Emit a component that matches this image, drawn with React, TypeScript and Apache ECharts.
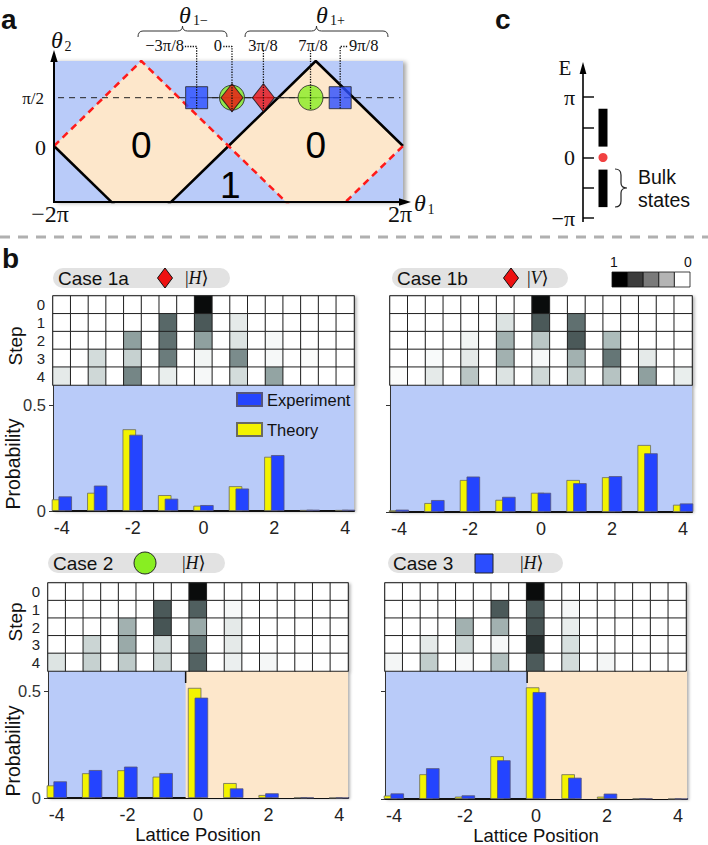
import React, { useEffect, useRef } from 'react';
import * as echarts from 'echarts';

// ---------- DATA ----------
// Panel a (theta1, theta2 in units of pi)
const peachRegions = [
  [[-2, 0], [-1, 0.88], [0, 0], [-1, -0.88]],
  [[0, 0], [1, 0.88], [2, 0], [1, -0.88]],
];
const blackEdgeA = [[-2, 0], [-1, -0.88]];
const blackEdgeB = [[-1, -0.88], [0, 0], [1, 0.88], [2, 0]];
const redEdge = [[-2, 0], [-1, 0.88], [0, 0], [1, -0.88], [2, 0]];
const halfPiLine = [[-2.08, 0.5], [1.97, 0.5]];
const markerLink = [[-0.365, 0.5], [1.28, 0.5]];
const squareX = [-0.365, 1.28];
const circleX = [0.04, 0.94];
const diamondX = [0.04, 0.4];
const connectors = [
  [[-0.5, 1.03], [-0.365, 1.03], [-0.365, 0.38]],
  [[-0.06, 1.03], [0.04, 1.03], [0.04, 0.355]],
  [[0.4, 0.99], [0.4, 0.37]],
  [[0.94, 0.99], [0.94, 0.38]],
  [[1.36, 1.03], [1.28, 1.03], [1.28, 0.38]],
];
const regionLabelPos = [[-1, 0], [1, 0], [0.02, -0.41]];
const regionLabels = ['0', '0', '1'];

// Panel c (E in units of pi)
const bulkBands = [[0.18, 0.806], [-0.82, -0.2]];
const edgeState = [[0.5, 0]];

// Panel b
const positions = [-4, -3, -2, -1, 0, 1, 2, 3, 4];
const cellLabels = ['-4', '-3.5', '-3', '-2.5', '-2', '-1.5', '-1', '-0.5', '0', '0.5', '1', '1.5', '2', '2.5', '3', '3.5', '4'];
const steps = ['0', '1', '2', '3', '4'];

const map1a = [
  [0, 0, 0, 0, 1, 0, 0, 0, 0],
  [0, 0, 0, 0.45, 0.5, 0.06, 0, 0, 0],
  [0, 0, 0.27, 0.42, 0.27, 0.08, 0.02, 0, 0],
  [0, 0.1, 0.13, 0.38, 0.03, 0.33, 0.02, 0.01, 0],
  [0.06, 0.11, 0.35, 0.05, 0.02, 0.1, 0.26, 0, 0],
];
const map1b = [
  [0, 0, 0, 0, 1, 0, 0, 0, 0],
  [0, 0, 0, 0.08, 0.5, 0.42, 0, 0, 0],
  [0, 0, 0.03, 0.22, 0.16, 0.5, 0.19, 0, 0],
  [0, 0.015, 0.06, 0.22, 0.02, 0.22, 0.4, 0.06, 0],
  [0.01, 0.06, 0.16, 0.08, 0.11, 0.13, 0.17, 0.27, 0.05],
];
const map2 = [
  [0, 0, 0, 0, 1, 0, 0, 0, 0],
  [0, 0, 0, 0.5, 0.48, 0.02, 0, 0, 0],
  [0, 0, 0.22, 0.52, 0.24, 0.06, 0, 0, 0],
  [0, 0.12, 0.24, 0.1, 0.4, 0.06, 0, 0, 0],
  [0.078, 0.131, 0.147, 0.117, 0.47, 0.045, 0.022, 0.002, 0],
];
const map3 = [
  [0, 0, 0, 0, 1, 0, 0, 0, 0],
  [0, 0, 0, 0.5, 0.5, 0.02, 0, 0, 0],
  [0, 0, 0.22, 0.22, 0.53, 0.05, 0, 0, 0],
  [0, 0.06, 0.12, 0.02, 0.75, 0.09, 0, 0, 0],
  [0.026, 0.143, 0.017, 0.18, 0.497, 0.099, 0.025, 0, 0],
];

const theory1a = [0.055, 0.086, 0.386, 0.075, 0.025, 0.117, 0.256, 0.005, 0.005];
const exp1a = [0.069, 0.12, 0.36, 0.058, 0.028, 0.106, 0.264, 0.006, 0.006];
const theory1b = [0.008, 0.042, 0.15, 0.057, 0.09, 0.15, 0.163, 0.314, 0.034];
const exp1b = [0.011, 0.056, 0.166, 0.071, 0.09, 0.135, 0.168, 0.275, 0.04];
const theory2 = [0.059, 0.116, 0.13, 0.1, 0.516, 0.07, 0.014, 0.002, 0.001];
const exp2 = [0.078, 0.131, 0.147, 0.117, 0.47, 0.045, 0.022, 0.002, 0.001];
const theory3 = [0.016, 0.115, 0.011, 0.199, 0.519, 0.115, 0.011, 0.002, 0.001];
const exp3 = [0.026, 0.143, 0.017, 0.18, 0.497, 0.099, 0.025, 0.002, 0.001];
const boundary2 = -0.35;
const boundary3 = -0.25;

const xTickValues = [-4, -2, 0, 2, 4];
const yTickValues = [0, 0.5];

// ---------- STYLE ----------
const FONT = 'Liberation Sans, Arial, Helvetica, sans-serif';
const SERIF = 'Liberation Serif, DejaVu Serif, serif';
const BLUE_BG = '#b9cbf9';
const PEACH = '#fde7cb';
const YELLOW = '#f3f300';
const EXPBLUE = '#2444ff';
const RED = '#ee1111';
const GREEN = '#88ee22';
const heatColors = ['#ffffff', '#d3dcdb', '#a9b8b7', '#849695', '#657676', '#4b5959', '#394545', '#2b3434', '#1f2626', '#141919', '#0a0c0c'];

const hbrace = (x0: number, x1: number, yEnd: number, yFlat: number, yTip: number) => {
  const xm = (x0 + x1) / 2;
  const r = 5;
  return `M${x0},${yEnd} Q${x0},${yFlat} ${x0 + r},${yFlat} L${xm - r},${yFlat} Q${xm},${yFlat} ${xm},${yTip} Q${xm},${yFlat} ${xm + r},${yFlat} L${x1 - r},${yFlat} Q${x1},${yFlat} ${x1},${yEnd}`;
};

const toCells = (rows: number[][]) => {
  const out: number[][] = [];
  rows.forEach((row, r) => {
    cellLabels.forEach((_, c) => {
      out.push([c, r, c % 2 === 0 ? row[c / 2] : 0]);
    });
  });
  return out;
};
const toPairs = (vals: number[]) => positions.map((p, i) => [p, vals[i]]);

const txt = (x: number, y: number, text: string, o: any = {}) => ({
  type: 'text',
  x,
  y,
  rotation: o.rot || 0,
  z: o.z || 100,
  style: {
    text,
    fontSize: o.size || 16,
    fontFamily: o.family || FONT,
    fontWeight: o.weight || 'normal',
    fontStyle: o.style || 'normal',
    fill: o.fill || '#111',
    align: o.align || 'center',
    verticalAlign: o.v || 'middle',
    textAlign: o.align || 'center',
    textVerticalAlign: o.v || 'middle',
    rich: o.rich,
  },
});

function buildOption() {
  const base = { outerBoundsMode: 'none', containLabel: false };
  const hmGrid = {
    ...base,
    show: true,
    backgroundColor: '#fff',
    borderColor: '#111',
    borderWidth: 1.2,
    shadowColor: 'rgba(0,0,0,0.3)',
    shadowBlur: 3,
    shadowOffsetX: 2,
    shadowOffsetY: 1,
  };
  const barGrid = {
    ...base,
    show: true,
    backgroundColor: BLUE_BG,
    borderWidth: 0,
    shadowColor: 'rgba(0,0,0,0.3)',
    shadowBlur: 3,
    shadowOffsetX: 2,
    shadowOffsetY: 1,
  };
  const grid: any[] = [
    { ...base, left: 54, top: 61, width: 349, height: 141, show: true, backgroundColor: BLUE_BG, borderWidth: 0, shadowColor: 'rgba(0,0,0,0.35)', shadowBlur: 4, shadowOffsetX: 3, shadowOffsetY: 1 },
    { ...base, left: 583, top: 97, width: 40, height: 121, show: false },
    { left: 53, top: 296, width: 301, height: 89, ...hmGrid },
    { left: 53, top: 385, width: 301, height: 126, ...barGrid },
    { left: 390, top: 296, width: 302, height: 89, ...hmGrid },
    { left: 390, top: 385, width: 302, height: 127, ...barGrid },
    { left: 48, top: 583, width: 300, height: 88, ...hmGrid },
    { left: 48, top: 671, width: 300, height: 127, ...barGrid },
    { left: 385, top: 583, width: 301, height: 88, ...hmGrid },
    { left: 385, top: 671, width: 302, height: 128, ...barGrid },
  ];

  const hidden = { axisLine: { show: false }, axisTick: { show: false }, axisLabel: { show: false }, splitLine: { show: false } };

  const xAxis: any[] = [
    { type: 'value', gridIndex: 0, min: -2, max: 2, ...hidden },
    { type: 'value', gridIndex: 1, min: 0, max: 1, ...hidden },
  ];
  const yAxis: any[] = [
    { type: 'value', gridIndex: 0, min: -0.58, max: 0.88, ...hidden },
    {
      type: 'value', gridIndex: 1, min: -1, max: 1, interval: 0.5,
      axisLine: { show: false },
      axisTick: { show: true, inside: true, length: 11, lineStyle: { color: '#111', width: 1.5 } },
      axisLabel: {
        margin: 8, fontFamily: SERIF, fontSize: 22, color: '#111',
        formatter: (v: number) => (v === 1 ? 'π' : v === 0 ? '0' : v === -1 ? '−π' : ''),
      },
      splitLine: { show: false },
    },
  ];

  const cases = [
    { hm: map1a, th: theory1a, ex: exp1a, boundary: null as number | null, g: 2, yLab: true, xName: '' },
    { hm: map1b, th: theory1b, ex: exp1b, boundary: null as number | null, g: 4, yLab: false, xName: '' },
    { hm: map2, th: theory2, ex: exp2, boundary: boundary2, g: 6, yLab: true, xName: 'Lattice Position' },
    { hm: map3, th: theory3, ex: exp3, boundary: boundary3, g: 8, yLab: false, xName: 'Lattice Position' },
  ];

  cases.forEach((c) => {
    xAxis.push({ type: 'category', gridIndex: c.g, data: cellLabels, ...hidden, splitArea: { show: false } });
    yAxis.push({
      type: 'category', gridIndex: c.g, data: steps, inverse: true,
      axisLine: { show: false }, axisTick: { show: false }, splitLine: { show: false },
      axisLabel: { show: c.yLab, interval: 0, fontSize: 15, color: '#222', margin: 8, fontFamily: FONT },
    });
    xAxis.push({
      type: 'value', gridIndex: c.g + 1, min: -4.25, max: 4.25,
      axisLine: { show: true, onZero: false, lineStyle: { color: '#111', width: 2 } },
      axisTick: { show: false },
      splitLine: { show: false },
      axisLabel: { customValues: xTickValues, fontSize: 18, color: '#222', margin: 8, fontFamily: FONT, formatter: (v: number) => String(v) },
      name: c.xName,
      nameLocation: 'middle',
      nameGap: 26,
      nameTextStyle: { fontSize: 18.5, color: '#111', fontFamily: FONT },
    });
    yAxis.push({
      type: 'value', gridIndex: c.g + 1, min: 0, max: 0.595,
      axisLine: { show: true, onZero: false, lineStyle: { color: '#333', width: 1 } },
      axisTick: { show: true, customValues: yTickValues, length: 4, lineStyle: { color: '#333' } },
      axisLabel: { show: c.yLab, customValues: yTickValues, fontSize: 16.5, color: '#333', margin: 7, fontFamily: FONT, formatter: (v: number) => (v === 0 ? '0' : '0.5') },
      splitLine: { show: false },
    });
  });

  const series: any[] = [];
  // ---- panel a ----
  series.push({
    type: 'custom', xAxisIndex: 0, yAxisIndex: 0, z: 1,
    data: peachRegions.map((_, i) => [i, 0]),
    renderItem: (params: any, api: any) => {
      const poly = peachRegions[params.dataIndex];
      const cs = params.coordSys;
      return {
        type: 'polygon',
        shape: { points: poly.map((p) => api.coord(p)) },
        style: { fill: PEACH },
        clipPath: { type: 'rect', shape: { x: cs.x, y: cs.y, width: cs.width, height: cs.height } },
      };
    },
    silent: true,
  });
  const lineS = (data: number[][], style: any, extra: any = {}) => ({
    type: 'line', xAxisIndex: 0, yAxisIndex: 0, data, showSymbol: false, symbol: 'none',
    lineStyle: style, silent: true, z: 3, ...extra,
  });
  series.push(lineS(blackEdgeA, { color: '#000', width: 2.5 }));
  series.push(lineS(blackEdgeB, { color: '#000', width: 2.5 }));
  series.push(lineS(redEdge, { color: '#ff1a1a', width: 2.5, type: [7, 5] }));
  series.push(lineS(halfPiLine, { color: '#222', width: 1, type: [6, 5] }, { clip: false }));
  series.push(lineS(markerLink, { color: '#222', width: 1 }));
  series.push({
    type: 'scatter', xAxisIndex: 0, yAxisIndex: 0, z: 5, silent: true,
    data: squareX.map((x) => [x, 0.5]), symbol: 'rect', symbolSize: 22,
    itemStyle: { color: '#2b4dff', borderColor: '#222', borderWidth: 1 },
  });
  series.push({
    type: 'scatter', xAxisIndex: 0, yAxisIndex: 0, z: 5, silent: true,
    data: circleX.map((x) => [x, 0.5]), symbol: 'circle', symbolSize: 25,
    itemStyle: { color: GREEN, borderColor: '#222', borderWidth: 1 },
  });
  series.push({
    type: 'scatter', xAxisIndex: 0, yAxisIndex: 0, z: 6, silent: true,
    data: diamondX.map((x) => [x, 0.5]), symbol: 'diamond', symbolSize: [22, 28],
    itemStyle: { color: RED, borderColor: '#111', borderWidth: 1 },
  });
  connectors.forEach((cn) => {
    series.push(lineS(cn, { color: '#111', width: 1.3, type: 'dotted' }, { clip: false, z: 8 }));
  });
  series.push({
    type: 'scatter', xAxisIndex: 0, yAxisIndex: 0, z: 4, silent: true,
    data: regionLabelPos, symbolSize: 1, itemStyle: { color: 'rgba(0,0,0,0)' },
    label: {
      show: true, position: 'inside', fontSize: 37, color: '#000', opacity: 1, textBorderWidth: 0, fontFamily: FONT,
      formatter: (p: any) => regionLabels[p.dataIndex],
    },
  });

  // ---- panel c ----
  series.push({
    type: 'custom', xAxisIndex: 1, yAxisIndex: 1, silent: true,
    data: bulkBands,
    renderItem: (params: any, api: any) => {
      const lo = api.value(0);
      const hi = api.value(1);
      const a = api.coord([0.5, hi]);
      const b = api.coord([0.5, lo]);
      return { type: 'rect', shape: { x: a[0] - 4.5, y: a[1], width: 9, height: b[1] - a[1] }, style: { fill: '#000' } };
    },
  });
  series.push({
    type: 'scatter', xAxisIndex: 1, yAxisIndex: 1, silent: true,
    data: edgeState, symbolSize: 9, itemStyle: { color: RED },
  });

  // ---- panel b ----
  const hmIdx: number[] = [];
  cases.forEach((c) => {
    hmIdx.push(series.length);
    series.push({
      type: 'heatmap', xAxisIndex: c.g, yAxisIndex: c.g, data: toCells(c.hm), silent: true,
      itemStyle: { borderColor: '#222', borderWidth: 1 },
      emphasis: { disabled: true },
    });
    if (c.boundary !== null) {
      series.push({
        type: 'custom', xAxisIndex: c.g + 1, yAxisIndex: c.g + 1, z: 1, silent: true,
        data: [[c.boundary, 0]],
        renderItem: (params: any, api: any) => {
          const b = api.value(0);
          const p0 = api.coord([b, 0.595]);
          const p1 = api.coord([4.25, 0]);
          return {
            type: 'group',
            children: [
              { type: 'rect', shape: { x: p0[0], y: p0[1], width: p1[0] - p0[0], height: p1[1] - p0[1] }, style: { fill: PEACH } },
              { type: 'line', shape: { x1: p0[0], y1: p0[1], x2: p0[0], y2: p0[1] + 12 }, style: { stroke: '#111', lineWidth: 1.5 } },
            ],
          };
        },
      });
    }
    series.push({
      type: 'bar', name: 'Theory', xAxisIndex: c.g + 1, yAxisIndex: c.g + 1, z: 2, silent: true,
      data: toPairs(c.th), barWidth: 13.5, barGap: '-50%',
      itemStyle: { color: YELLOW, borderColor: '#6a6a60', borderWidth: 0.8 },
    });
    series.push({
      type: 'bar', name: 'Experiment', xAxisIndex: c.g + 1, yAxisIndex: c.g + 1, z: 3, silent: true,
      data: toPairs(c.ex), barWidth: 13.5, barGap: '-50%',
      itemStyle: { color: EXPBLUE, borderColor: '#55557a', borderWidth: 0.8 },
    });
  });

  // ---------- graphic ----------
  const g: any[] = [];
  g.push({ type: 'line', z: 50, shape: { x1: 0, y1: 237, x2: 708, y2: 237 }, style: { stroke: '#b0b0b0', lineWidth: 3, lineDash: [10, 8] } });
  g.push(txt(1, 19, 'a', { size: 28, weight: 'bold', align: 'left' }));
  g.push(txt(2, 258, 'b', { size: 28, weight: 'bold', align: 'left' }));
  g.push(txt(495, 19, 'c', { size: 28, weight: 'bold', align: 'left' }));

  // panel a axes
  g.push({ type: 'line', z: 60, shape: { x1: 54, y1: 203, x2: 54, y2: 60 }, style: { stroke: '#000', lineWidth: 2 } });
  g.push({ type: 'polygon', z: 60, shape: { points: [[54, 50], [50.3, 62], [57.7, 62]] }, style: { fill: '#000' } });
  g.push({ type: 'line', z: 60, shape: { x1: 53, y1: 202, x2: 400, y2: 202 }, style: { stroke: '#000', lineWidth: 2 } });
  g.push({ type: 'polygon', z: 60, shape: { points: [[411, 202], [399, 198.3], [399, 205.7]] }, style: { fill: '#000' } });
  g.push(txt(57, 40, 'θ', { size: 24, family: SERIF, style: 'italic' }));
  g.push(txt(68, 46, '2', { size: 14, family: SERIF }));
  g.push(txt(420, 203, 'θ', { size: 24, family: SERIF, style: 'italic' }));
  g.push(txt(431, 209, '1', { size: 14, family: SERIF }));
  g.push(txt(44, 98, 'π/2', { size: 17, family: SERIF, align: 'right' }));
  g.push(txt(46, 147, '0', { size: 22, family: SERIF, align: 'right' }));
  g.push(txt(50, 214, '−2π', { size: 24, family: SERIF }));
  g.push(txt(400, 214, '2π', { size: 24, family: SERIF }));
  // braces & annotations
  g.push({ type: 'braceMinus', z: 60, shape: {}, style: { stroke: '#333', fill: 'none', lineWidth: 1 } });
  g.push({ type: 'bracePlus', z: 60, shape: {}, style: { stroke: '#333', fill: 'none', lineWidth: 1 } });
  g.push(txt(185, 15, 'θ', { size: 24, family: SERIF, style: 'italic' }));
  g.push(txt(193, 20, '1−', { size: 14, family: SERIF, align: 'left' }));
  g.push(txt(322, 15, 'θ', { size: 24, family: SERIF, style: 'italic' }));
  g.push(txt(330, 20, '1+', { size: 14, family: SERIF, align: 'left' }));
  g.push(txt(184, 45, '−3π/8', { size: 16.5, family: SERIF, align: 'right' }));
  g.push(txt(222, 45, '0', { size: 16.5, family: SERIF, align: 'right' }));
  g.push(txt(263, 45, '3π/8', { size: 16.5, family: SERIF }));
  g.push(txt(313, 45, '7π/8', { size: 16.5, family: SERIF }));
  g.push(txt(349, 45, '9π/8', { size: 16.5, family: SERIF, align: 'left' }));

  // panel c
  g.push({ type: 'line', z: 60, shape: { x1: 583, y1: 222, x2: 583, y2: 72 }, style: { stroke: '#000', lineWidth: 1.6 } });
  g.push({ type: 'polygon', z: 60, shape: { points: [[583, 62], [579.6, 74], [586.4, 74]] }, style: { fill: '#000' } });
  g.push(txt(565, 68, 'E', { size: 21, family: SERIF }));
  g.push({ type: 'braceBulk', z: 60, shape: {}, style: { stroke: '#222', fill: 'none', lineWidth: 1.2 } });
  g.push(txt(638, 177, 'Bulk', { size: 19.5, align: 'left' }));
  g.push(txt(638, 200, 'states', { size: 19.5, align: 'left' }));

  // pills
  const ketRich = {
    n: { fontFamily: SERIF, fontSize: 18, color: '#111' },
    i: { fontFamily: SERIF, fontSize: 18, fontStyle: 'italic', color: '#111' },
  };
  const pill = (x: number, y: number, w: number, label: string, ketX: number, ket: string) => {
    g.push({ type: 'rect', z: 90, shape: { x, y, width: w, height: 20, r: 10 }, style: { fill: '#e2e2e2' } });
    g.push(txt(x + 5, y + 10, label, { size: 19, align: 'left' }));
    g.push(txt(ketX, y + 10, `{n||}{i|${ket}}{n|⟩}`, { align: 'left', rich: ketRich }));
  };
  pill(53, 268, 177, 'Case 1a', 185, 'H');
  pill(392, 268, 176, 'Case 1b', 527, 'V');
  pill(48, 553, 177, 'Case 2', 182, 'H');
  pill(388, 553, 175, 'Case 3', 520, 'H');
  const diamond = (cx: number, cy: number) => ({
    type: 'polygon', z: 95,
    shape: { points: [[cx, cy - 10], [cx + 7.5, cy], [cx, cy + 10], [cx - 7.5, cy]] },
    style: { fill: RED, stroke: '#111', lineWidth: 1 },
  });
  g.push(diamond(165, 278));
  g.push(diamond(511, 278));
  g.push({ type: 'circle', z: 95, shape: { cx: 145, cy: 563, r: 11 }, style: { fill: GREEN, stroke: '#222', lineWidth: 1 } });
  g.push({ type: 'rect', z: 95, shape: { x: 475, y: 554, width: 18, height: 19 }, style: { fill: '#2b4dff', stroke: '#222', lineWidth: 1 } });

  // grayscale key
  const keyColors = ['#000000', '#3c3c3c', '#7a7a7a', '#b4b4b4', '#ffffff'];
  keyColors.forEach((col, i) => {
    g.push({ type: 'rect', z: 90, shape: { x: 612 + i * 15.6, y: 272, width: 15.6, height: 15 }, style: { fill: col, stroke: '#111', lineWidth: 0.8 } });
  });
  g.push(txt(614, 262, '1', { size: 14 }));
  g.push(txt(688, 262, '0', { size: 14 }));

  // rotated axis titles
  g.push(txt(15, 346, 'Step', { size: 19, rot: Math.PI / 2 }));
  g.push(txt(15, 622, 'Step', { size: 19, rot: Math.PI / 2 }));
  g.push(txt(13, 464, 'Probability', { size: 19.5, rot: Math.PI / 2 }));
  g.push(txt(13, 751, 'Probability', { size: 19.5, rot: Math.PI / 2 }));

  return {
    animation: false,
    backgroundColor: '#fff',
    textStyle: { fontFamily: FONT },
    grid,
    xAxis,
    yAxis,
    visualMap: {
      type: 'continuous', min: 0, max: 1, show: false, dimension: 2,
      seriesIndex: hmIdx, inRange: { color: heatColors },
    },
    legend: {
      data: ['Experiment', 'Theory'],
      left: 236, top: 391, orient: 'vertical', padding: 0,
      itemWidth: 25, itemHeight: 13, itemGap: 13, icon: 'rect',
      textStyle: { fontSize: 16.5, color: '#111', fontFamily: FONT },
      selectedMode: false,
    },
    series,
    graphic: { elements: g },
  };
}

export default function App() {
  const ref = useRef<HTMLDivElement>(null);
  useEffect(() => {
    echarts.graphic.registerShape('braceMinus', echarts.graphic.extendPath(hbrace(138, 227, 37, 31, 26), {}));
    echarts.graphic.registerShape('bracePlus', echarts.graphic.extendPath(hbrace(245, 388, 37, 31, 26), {}));
    echarts.graphic.registerShape(
      'braceBulk',
      echarts.graphic.extendPath('M615,169 Q621,169 621,175 L621,183 Q621,188 627,188 Q621,188 621,193 L621,201 Q621,207 615,207', {})
    );
    const chart = echarts.init(ref.current!, null, { renderer: 'svg' });
    chart.setOption(buildOption() as any);
    return () => chart.dispose();
  }, []);
  return <div ref={ref} style={{ position: 'absolute', left: 0, top: 0, width: 708, height: 845 }} />;
}
